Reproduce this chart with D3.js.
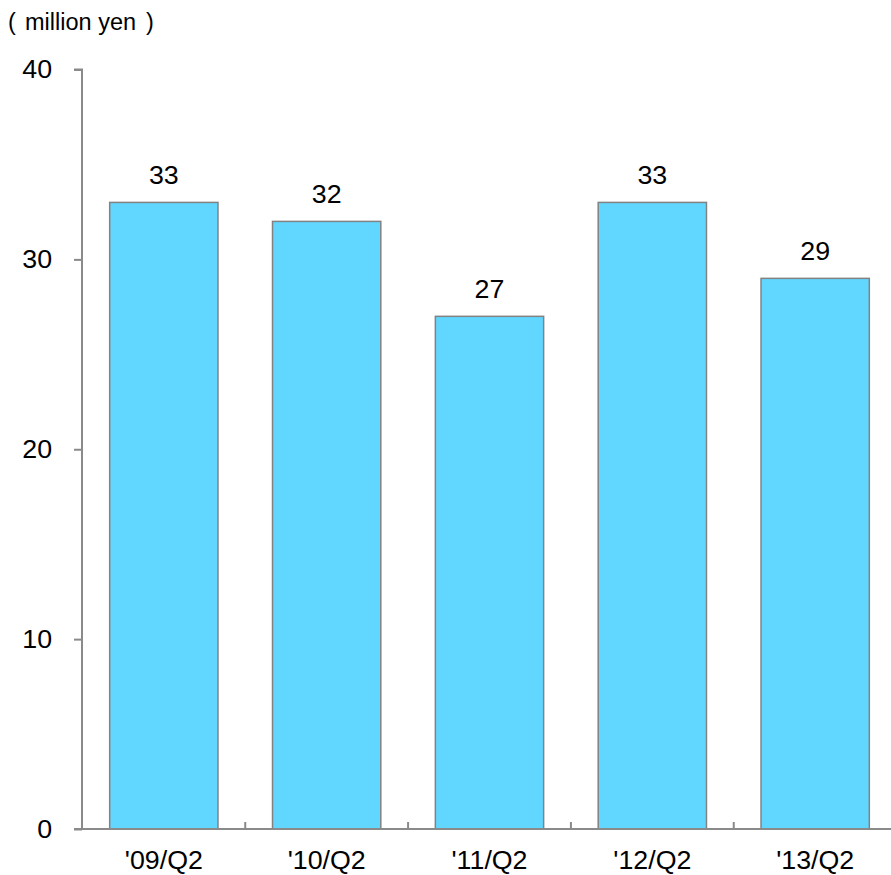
<!DOCTYPE html>
<html>
<head>
<meta charset="utf-8">
<script src="https://cdn.jsdelivr.net/npm/d3@7"></script>
<style>
  html, body { margin: 0; padding: 0; background: #fff; }
  svg text { font-family: "Liberation Sans", Arial, sans-serif; fill: #000; }
</style>
</head>
<body>
<svg id="chart" width="891" height="875"></svg>
<script>
// Quarterly values, in million yen
const categories = ["'09/Q2", "'10/Q2", "'11/Q2", "'12/Q2", "'13/Q2"];
const values = [33, 32, 27, 33, 29];
const yTicks = [0, 10, 20, 30, 40];
const unitText = "million yen";

const svg = d3.select("#chart");
const margin = { left: 82, top: 69.5, bottom: 829 };
const x = d3.scaleBand()
  .domain(categories)
  .range([margin.left, margin.left + 163 * categories.length])
  .paddingInner(0.335)
  .paddingOuter(0.17);
const y = d3.scaleLinear().domain([0, 40]).range([margin.bottom, margin.top]);

const axisColor = "#8a8a8a";
const fontSize = 25.5;
const stretch = 1.05;   // slightly wide lettering

// bars
svg.append("g").selectAll("rect")
  .data(values)
  .join("rect")
  .attr("x", (d, i) => x(categories[i]))
  .attr("y", d => y(d))
  .attr("width", x.bandwidth())
  .attr("height", d => y(0) - y(d))
  .attr("fill", "#61D6FF")
  .attr("stroke", "#828282")
  .attr("stroke-width", 1.5);

// y axis
const yAxis = svg.append("g")
  .attr("transform", `translate(${margin.left},0)`)
  .call(d3.axisLeft(y).tickValues(yTicks).tickSize(8).tickPadding(22).tickFormat(d3.format("d")));
yAxis.select(".domain").attr("stroke", axisColor).attr("stroke-width", 2).attr("d", `M-8,${y(40)}H0V${y(0)}`);
yAxis.selectAll(".tick line").attr("stroke", axisColor).attr("stroke-width", 2);
yAxis.selectAll(".tick text")
  .attr("font-size", fontSize)
  .style("font-family", '"Liberation Sans", Arial, sans-serif')
  .attr("fill", "#000")
  .attr("transform", `translate(-30,0) scale(${stretch},1) translate(30,0)`);

// x axis with ticks between categories
const xAxisG = svg.append("g");
xAxisG.append("line")
  .attr("x1", margin.left - 8).attr("x2", 891)
  .attr("y1", y(0)).attr("y2", y(0))
  .attr("stroke", axisColor).attr("stroke-width", 2);
const step = x.step();
xAxisG.selectAll("line.sep")
  .data(categories.slice(1))
  .join("line")
  .attr("class", "sep")
  .attr("x1", d => x(d) - x.paddingInner() * step / 2)
  .attr("x2", d => x(d) - x.paddingInner() * step / 2)
  .attr("y1", y(0)).attr("y2", y(0) - 7)
  .attr("stroke", axisColor).attr("stroke-width", 2);
xAxisG.selectAll("text")
  .data(categories)
  .join("text")
  .attr("transform", d => `translate(${x(d) + x.bandwidth() / 2},${y(0) + 40}) scale(${stretch},1)`)
  .attr("text-anchor", "middle")
  .attr("font-size", fontSize)
  .text(d => d);

// value labels
svg.append("g").selectAll("text")
  .data(values)
  .join("text")
  .attr("transform", (d, i) => `translate(${x(categories[i]) + x.bandwidth() / 2},${y(d) - 18}) scale(${stretch},1)`)
  .attr("text-anchor", "middle")
  .attr("font-size", fontSize)
  .text(d => d);

// unit label with wide brackets
const unit = svg.append("text")
  .attr("y", 30)
  .attr("font-size", 23.5);
unit.append("tspan").attr("x", 8).text("(");
unit.append("tspan").attr("x", 25).text(unitText);
unit.append("tspan").attr("x", 146).text(")");
</script>
</body>
</html>
